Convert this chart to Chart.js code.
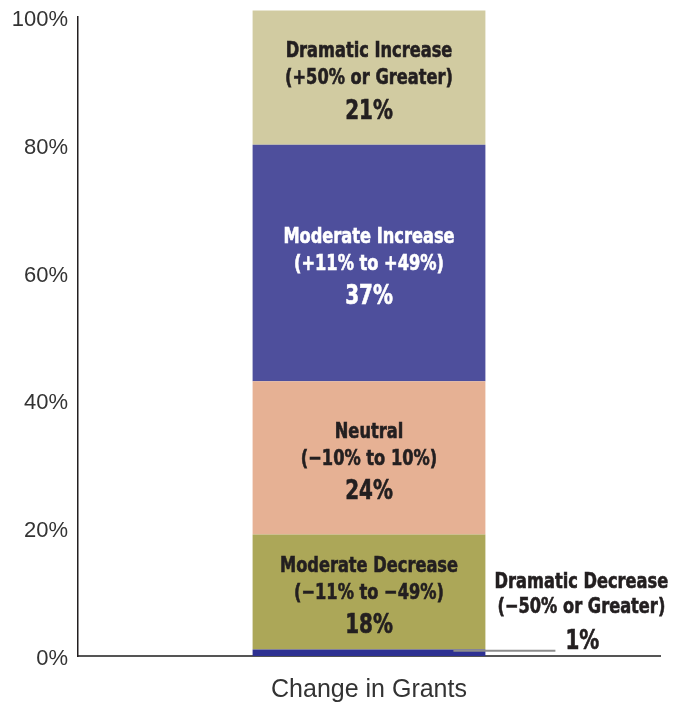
<!DOCTYPE html>
<html>
<head>
<meta charset="utf-8">
<script src="https://cdn.jsdelivr.net/npm/chart.js@4.4.1/dist/chart.umd.min.js"></script>
<style>
  html, body { margin: 0; padding: 0; background: #ffffff; }
  #wrap { width: 684px; height: 702px; position: relative; }
</style>
</head>
<body>
<div id="wrap"><canvas id="c" width="684" height="702"></canvas></div>
<script>
const categories = ['Change in Grants'];
const segmentNames = ['Dramatic Decrease', 'Moderate Decrease', 'Neutral', 'Moderate Increase', 'Dramatic Increase'];
const segmentRanges = ['(\u221250% or Greater)', '(\u221211% to \u221249%)', '(\u221210% to 10%)', '(+11% to +49%)', '(+50% or Greater)'];
const segmentValues = [1, 18, 24, 37, 21];
const segmentColors = ['#2e3192', '#aca758', '#e6b194', '#4e4f9c', '#d1cba1'];
const labelColors = ['#231f20', '#231f20', '#231f20', '#ffffff', '#231f20'];
const yTickMin = 0, yTickMax = 100, yTickStep = 20;

const BOLD = '"Liberation Sans Narrow", "DejaVu Sans Condensed", "Liberation Sans", sans-serif';
const REG = '"Liberation Sans", Arial, sans-serif';
const SQUEEZE = 0.82;

function squeezedText(ctx, text, x, y, font) {
  ctx.save();
  ctx.font = font;
  ctx.translate(x, y);
  ctx.scale(SQUEEZE, 1);
  ctx.lineWidth = 0.6;
  ctx.strokeStyle = ctx.fillStyle;
  ctx.fillText(text, 0, 0);
  ctx.strokeText(text, 0, 0);
  ctx.restore();
}

const segLabels = {
  id: 'segLabels',
  afterDatasetsDraw(chart) {
    const ctx = chart.ctx;
    ctx.save();
    ctx.textAlign = 'center';
    ctx.textBaseline = 'middle';
    const f1 = 'bold 22px ' + BOLD;
    const f2 = 'bold 27px ' + BOLD;
    chart.data.datasets.forEach((ds, i) => {
      const meta = chart.getDatasetMeta(i);
      const el = meta.data[0];
      if (!el) return;
      const cx = el.x;
      const cy = (el.y + el.base) / 2;
      const pct = segmentValues[i] + '%';
      if (i === 0) {
        const right = el.x + el.width / 2;
        ctx.strokeStyle = '#8c8c8c';
        ctx.lineWidth = 2;
        ctx.beginPath();
        ctx.moveTo(right - 32, cy - 2);
        ctx.lineTo(right + 70, cy - 2);
        ctx.stroke();
        ctx.fillStyle = labelColors[i];
        const tx = right + 96;
        squeezedText(ctx, segmentNames[i], tx, cy - 71, f1);
        squeezedText(ctx, segmentRanges[i], tx, cy - 46, f1);
        squeezedText(ctx, pct, right + 97, cy - 11, f2);
      } else {
        ctx.fillStyle = labelColors[i];
        squeezedText(ctx, segmentNames[i], cx, cy - 26, f1);
        squeezedText(ctx, segmentRanges[i], cx, cy + 1, f1);
        squeezedText(ctx, pct, cx, cy + 34, f2);
      }
    });
    ctx.restore();
  }
};

const datasets = segmentNames.map((name, i) => ({
  label: name,
  data: [segmentValues[i]],
  backgroundColor: segmentColors[i],
  borderWidth: 0,
  stack: 's',
  clip: false,
  barPercentage: 0.4,
  categoryPercentage: 1.0
}));

new Chart(document.getElementById('c'), {
  type: 'bar',
  data: { labels: categories, datasets },
  options: {
    responsive: false,
    animation: false,
    layout: { padding: { top: 17, right: 24, left: 0, bottom: 0 } },
    plugins: { legend: { display: false }, tooltip: { enabled: false } },
    scales: {
      x: {
        stacked: true,
        grid: { display: false, drawTicks: false },
        border: { display: true, color: '#555555', width: 2 },
        ticks: { color: '#333333', font: { family: REG, size: 25 }, padding: 19 },
        afterFit(scale) { scale.height = 46; scale.paddingLeft = 0; scale.paddingRight = 0; }
      },
      y: {
        stacked: true,
        min: yTickMin,
        max: yTickMax,
        grid: { display: false, drawTicks: false },
        border: { display: true, color: '#231f20', width: 1.5 },
        ticks: {
          stepSize: yTickStep,
          color: '#333333',
          padding: 10,
          labelOffset: 3,
          font: { family: REG, size: 22 },
          callback: v => v + '%'
        },
        afterFit(scale) { scale.width = 78; scale.paddingTop = 0; scale.paddingBottom = 0; }
      }
    }
  },
  plugins: [segLabels]
});
</script>
</body>
</html>
